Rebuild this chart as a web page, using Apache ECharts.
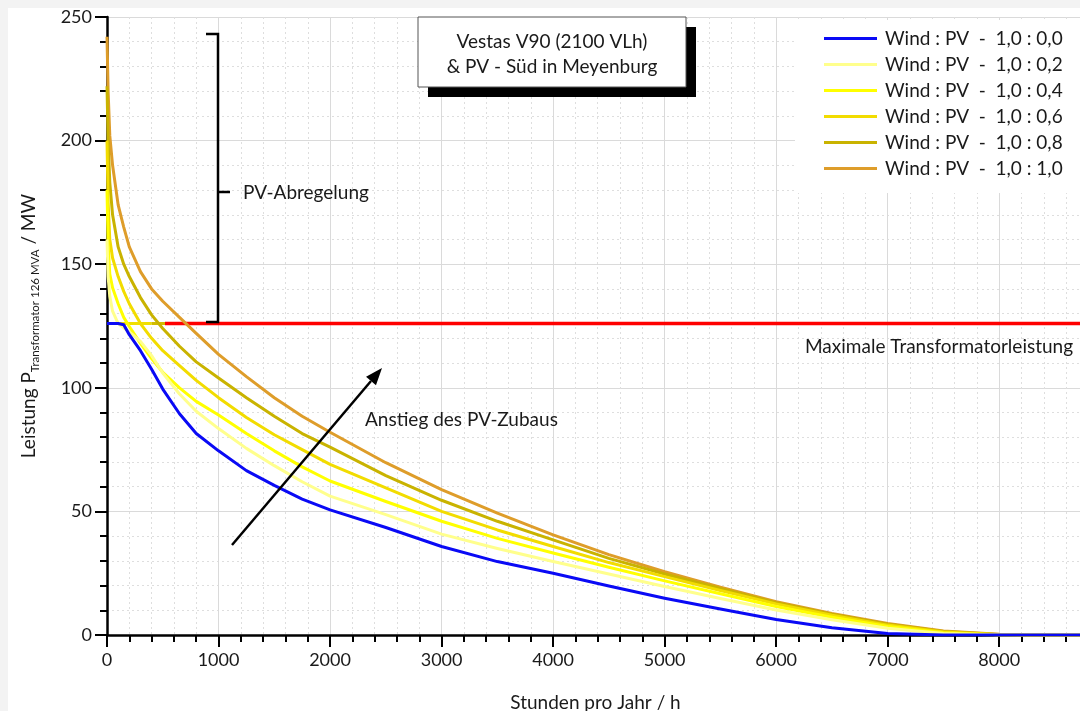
<!DOCTYPE html>
<html lang="de">
<head>
    <meta charset="UTF-8">
    <title>Vestas V90 (2100 VLh) & PV - Süd in Meyenburg</title>
    <script src="https://cdn.jsdelivr.net/npm/echarts@6/dist/echarts.min.js"></script>
    <style>
        html, body { margin: 0; padding: 0; background: #f3f3f3; }
        #chart { position: absolute; left: 8px; top: 8px; width: 1072px; height: 703px; background: #fff; }
    </style>
</head>
<body>
<div id="chart"></div>
<script>
    // Stunden pro Jahr (gemeinsame Stützstellen aller Dauerlinien)
    const hours = [0, 10, 25, 50, 100, 150, 200, 300, 400, 500, 650, 800, 1000, 1250, 1500, 1750,
        2000, 2500, 3000, 3500, 4000, 4500, 5000, 5500, 6000, 6500, 7000, 7500, 8000, 8300, 8760];

    // Leistung in MW je Verhältnis Wind : PV
    const pv00 = [126, 126, 126, 126, 126, 125.5, 121.5, 115, 107.5, 99.5, 89.5, 81.5, 74.5, 66.5, 60.5, 55,
        50.6, 43.5, 35.8, 29.7, 25, 19.8, 14.9, 10.5, 6.3, 2.9, 0.6, 0, 0, 0, 0];
    const pv02 = [160, 145, 137, 131, 126, 124.3, 122.6, 118.8, 113, 106, 97.5, 90.5, 83.5, 75.5, 68.5, 62,
        56.2, 48.7, 40.8, 35, 29.7, 24.7, 19.6, 14.8, 10.1, 6.2, 2.7, 0.6, 0.05, 0, 0];
    const pv04 = [180, 158, 146, 140.5, 134, 128.5, 124.8, 118, 111.8, 106.3, 100, 94.5, 89, 81.5, 74.5, 68,
        62.3, 54, 46, 39.1, 33.2, 27.4, 21.9, 16.7, 11.5, 7.2, 3.4, 0.9, 0.1, 0, 0];
    const pv06 = [200, 175, 160, 152.5, 145, 139, 134, 126, 120, 115, 109, 103, 96, 88, 81, 75,
        69, 59.5, 50, 42.5, 35.8, 29.3, 23.6, 18, 12.6, 8, 4, 1.2, 0.15, 0, 0];
    const pv08 = [222, 200, 183, 170, 157, 150, 145, 136.5, 129.5, 124, 116.8, 110.5, 104, 96, 88.5, 81.5,
        76, 64.5, 54.5, 46, 38.5, 31, 24.7, 18.8, 13.1, 8.4, 4.4, 1.4, 0.2, 0, 0];
    const pv10 = [242, 220, 202, 190, 174, 165, 157, 147, 140, 135, 128.5, 122, 113.5, 104.5, 96, 88.5,
        82, 69.7, 58.8, 49.3, 40.5, 32.5, 25.6, 19.3, 13.5, 8.7, 4.7, 1.6, 0.3, 0, 0];

    const seriesNames = ['Wind : PV  -  1,0 : 0,0', 'Wind : PV  -  1,0 : 0,2', 'Wind : PV  -  1,0 : 0,4',
        'Wind : PV  -  1,0 : 0,6', 'Wind : PV  -  1,0 : 0,8', 'Wind : PV  -  1,0 : 1,0'];
    const seriesValues = [pv00, pv02, pv04, pv06, pv08, pv10];
    const seriesColors = ['#0a0af5', '#ffff8c', '#ffff00', '#f2dc00', '#c9b300', '#de9d2a'];

    // Maximale Transformatorleistung (MW) und Abschnitte der Begrenzung
    const transformerMax = 126;
    const capYellowHours = [0, 400];
    const capOliveHours = [400, 520];
    const redHours = [520, 8760];

    const fontFamily = 'Lato, "Open Sans", sans-serif';
    const txt = '#1a1a1a';
    const chart = echarts.init(document.getElementById('chart'));

    const pairs = vals => hours.map((h, i) => [h, vals[i]]);
    const flat = hs => hs.map(h => [h, transformerMax]);

    const series = [
        {name: 'cap1', type: 'line', data: flat(capYellowHours), showSymbol: false, silent: true,
            lineStyle: {color: '#f0df00', width: 3}},
        {name: 'cap2', type: 'line', data: flat(capOliveHours), showSymbol: false, silent: true,
            lineStyle: {color: '#d2bd00', width: 3}},
        {name: 'limit', type: 'line', data: flat(redHours), showSymbol: false, silent: true,
            lineStyle: {color: '#ff0000', width: 3.5}}
    ];
    // von oben (1,0) nach unten (0,0) zeichnen, damit Blau oben liegt
    for (let i = seriesValues.length - 1; i >= 0; i--) {
        series.push({
            name: seriesNames[i], type: 'line', data: pairs(seriesValues[i]),
            showSymbol: false, symbol: 'none', smooth: false,
            lineStyle: {color: seriesColors[i], width: 3, join: 'round'}, itemStyle: {color: seriesColors[i]}
        });
    }

    // Pfeil "Anstieg des PV-Zubaus"
    const a0 = [224, 537], a1 = [374, 360];
    const dx = a1[0] - a0[0], dy = a1[1] - a0[1], len = Math.hypot(dx, dy);
    const ux = dx / len, uy = dy / len, hl = 17, hw = 6.5;
    const bx = a1[0] - ux * hl, by = a1[1] - uy * hl;

    const label = (text, x, y, extra) => Object.assign({type: 'text', x: x, y: y, z: 52,
        style: {text: text, fontSize: 19, fontFamily: fontFamily, fill: txt, verticalAlign: 'middle'}}, extra || {});

    chart.setOption({
        animation: false,
        textStyle: {fontFamily: fontFamily},
        grid: {left: 99, top: 9, right: -4, bottom: 76, outerBoundsMode: 'none', containLabel: false},
        legend: {
            data: seriesNames, left: 787, top: 12, orient: 'vertical',
            backgroundColor: '#fff', padding: [9, 30, 15, 29],
            itemWidth: 53, itemHeight: 3, itemGap: 7, icon: 'rect',
            textStyle: {fontSize: 19, color: txt, lineHeight: 19, padding: [0, 0, 0, 3], fontFamily: fontFamily}
        },
        xAxis: {
            type: 'value', min: 0, max: 8760, interval: 1000,
            name: 'Stunden pro Jahr / h', nameLocation: 'middle', nameGap: 58,
            nameTextStyle: {fontSize: 19, color: txt},
            axisLine: {show: true, lineStyle: {color: '#000', width: 2.5}},
            axisTick: {show: true, length: 12, lineStyle: {color: '#000', width: 2}},
            minorTick: {show: true, splitNumber: 5, length: 7, lineStyle: {color: '#000', width: 2}},
            axisLabel: {fontSize: 18, color: txt, margin: 16, showMaxLabel: false, formatter: v => String(v)},
            splitLine: {show: true, lineStyle: {color: '#dadada', width: 1}},
            minorSplitLine: {show: true, lineStyle: {color: '#dedede', width: 1, type: [2, 3]}}
        },
        yAxis: {
            type: 'value', min: 0, max: 250, interval: 50,
            name: '{a|Leistung P}{s|Transformator 126 MVA}{a| / MW}',
            nameLocation: 'middle', nameGap: 66, nameRotate: 90,
            nameTextStyle: {
                color: txt,
                rich: {
                    a: {fontSize: 19, lineHeight: 24, color: txt, fontFamily: fontFamily},
                    s: {fontSize: 11.5, lineHeight: 12, verticalAlign: 'bottom', color: txt, fontFamily: fontFamily}
                }
            },
            axisLine: {show: true, lineStyle: {color: '#000', width: 2.5}},
            axisTick: {show: true, length: 12, lineStyle: {color: '#000', width: 2}},
            minorTick: {show: true, splitNumber: 5, length: 7, lineStyle: {color: '#000', width: 2}},
            axisLabel: {fontSize: 18, color: txt, margin: 15},
            splitLine: {show: true, lineStyle: {color: '#dadada', width: 1}},
            minorSplitLine: {show: true, lineStyle: {color: '#dedede', width: 1, type: [2, 3]}}
        },
        series: series,
        graphic: [
            // Titelbox mit Schatten
            {type: 'rect', shape: {x: 420, y: 19, width: 268, height: 70}, style: {fill: '#000'}, z: 50},
            {type: 'rect', shape: {x: 410, y: 9, width: 268, height: 70}, style: {fill: '#fff', stroke: '#555', lineWidth: 1}, z: 51},
            label('Vestas V90 (2100 VLh)', 544, 34, {style: {text: 'Vestas V90 (2100 VLh)', fontSize: 19, fontFamily: fontFamily,
                fill: txt, align: 'center', verticalAlign: 'middle'}}),
            label('& PV - Süd in Meyenburg', 544, 59, {style: {text: '& PV - Süd in Meyenburg', fontSize: 19, fontFamily: fontFamily,
                fill: txt, align: 'center', verticalAlign: 'middle'}}),
            // Klammer PV-Abregelung
            {type: 'polyline', shape: {points: [[198, 26], [210, 26], [210, 314], [198, 314]]}, z: 50,
                style: {stroke: '#000', lineWidth: 2.5, fill: null}},
            {type: 'line', shape: {x1: 210, y1: 184, x2: 222, y2: 184}, z: 50, style: {stroke: '#000', lineWidth: 2.5}},
            label('PV-Abregelung', 235, 185),
            label('Maximale Transformatorleistung', 797, 339),
            // Pfeil
            {type: 'line', shape: {x1: a0[0], y1: a0[1], x2: bx, y2: by}, z: 50, style: {stroke: '#000', lineWidth: 2.5}},
            {type: 'polygon', z: 50, shape: {points: [[a1[0], a1[1]], [bx + uy * hw, by - ux * hw], [bx - uy * hw, by + ux * hw]]},
                style: {fill: '#000'}},
            label('Anstieg des PV-Zubaus', 357, 412)
        ]
    });
</script>
</body>
</html>
